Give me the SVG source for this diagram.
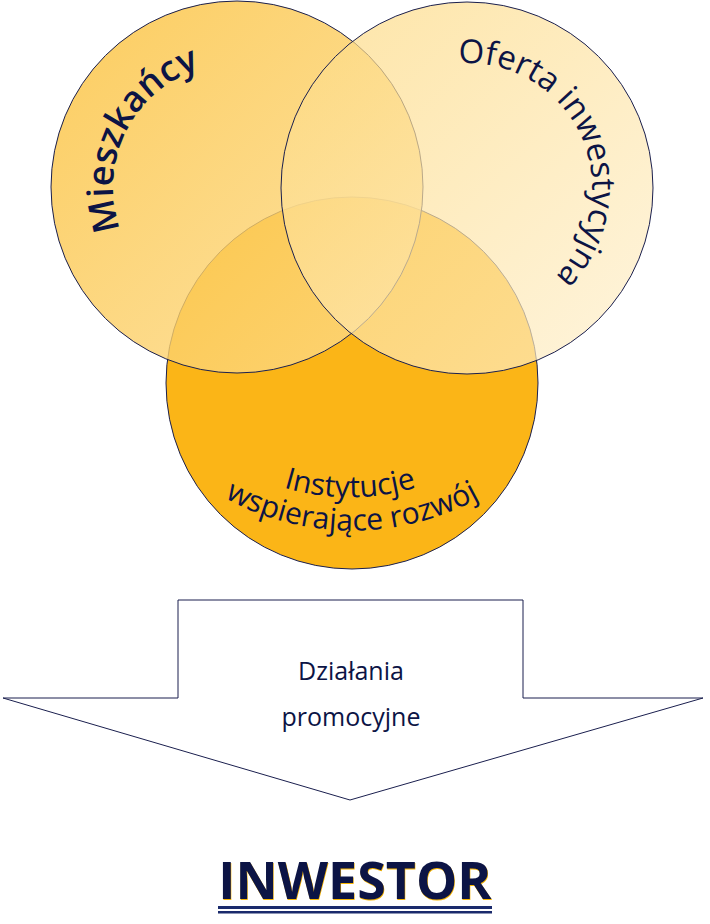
<svg xmlns="http://www.w3.org/2000/svg" width="710" height="924" viewBox="0 0 710 924">
<style>
.c{stroke:#1a1f4e;stroke-width:1}
.t{font-family:"Open Sans","Noto Sans",sans-serif;fill:#0c1445}
</style>
<defs>
<linearGradient id="gl" x1="0" y1="0" x2="1" y2="1"><stop offset="0" stop-color="#fbc037"/><stop offset="1" stop-color="#fddc8e"/></linearGradient>
<linearGradient id="gr" x1="0" y1="0" x2="1" y2="1"><stop offset="0" stop-color="#fdd97f"/><stop offset="1" stop-color="#fef0cf"/></linearGradient>
<path id="pl" d="M 120.5 229.4 A 124 124 0 0 1 194.6 70.5"/>
<path id="pr" d="M 458.3 63.3 A 125 125 0 0 1 529.5 296.3"/>
<path id="pb1" d="M 262 480 A 234 234 0 0 0 438 480"/>
<path id="pb2" d="M 208 488 A 265 265 0 0 0 496 488"/>
</defs>
<g id="circle-bottom"><circle class="c" cx="352" cy="383" r="186" fill="#fbb517"/></g>
<g id="circle-left"><circle class="c" cx="237" cy="187" r="186" fill="url(#gl)" fill-opacity="0.8"/>
<text class="t" font-size="36" font-weight="600"><textPath href="#pl">Mieszkańcy</textPath></text></g>
<g id="circle-right"><circle class="c" cx="467" cy="188" r="186" fill="url(#gr)" fill-opacity="0.7"/>
<text class="t" font-size="33"><textPath href="#pr">Oferta inwestycyjna</textPath></text></g>
<g id="bottom-label">
<text class="t" font-size="30" text-anchor="middle"><textPath href="#pb1" startOffset="50%">Instytucje</textPath></text>
<text class="t" font-size="30" text-anchor="middle"><textPath href="#pb2" startOffset="50%">wspierające rozwój</textPath></text>
</g>
<g id="connectors">
<polygon points="178,600 523,600 523,698 703,698 350,800 3,698 178,698" fill="#fff" stroke="#1a1f4e" stroke-width="1"/>
<text class="t" font-size="25" text-anchor="middle" x="351" y="680">Działania</text>
<text class="t" font-size="25" text-anchor="middle" x="351" y="726">promocyjne</text>
</g>
<g id="investor">
<text class="t" x="355.5" y="900" font-size="52" font-weight="bold" text-anchor="middle" style="fill:#f7b500">INWESTOR</text>
<text class="t" x="355" y="899" font-size="52" font-weight="bold" text-anchor="middle">INWESTOR</text>
<rect x="218" y="906" width="274" height="3" fill="#1a2a6c"/>
<rect x="218" y="911" width="274" height="2.5" fill="#1a2a6c"/>
</g>
</svg>
